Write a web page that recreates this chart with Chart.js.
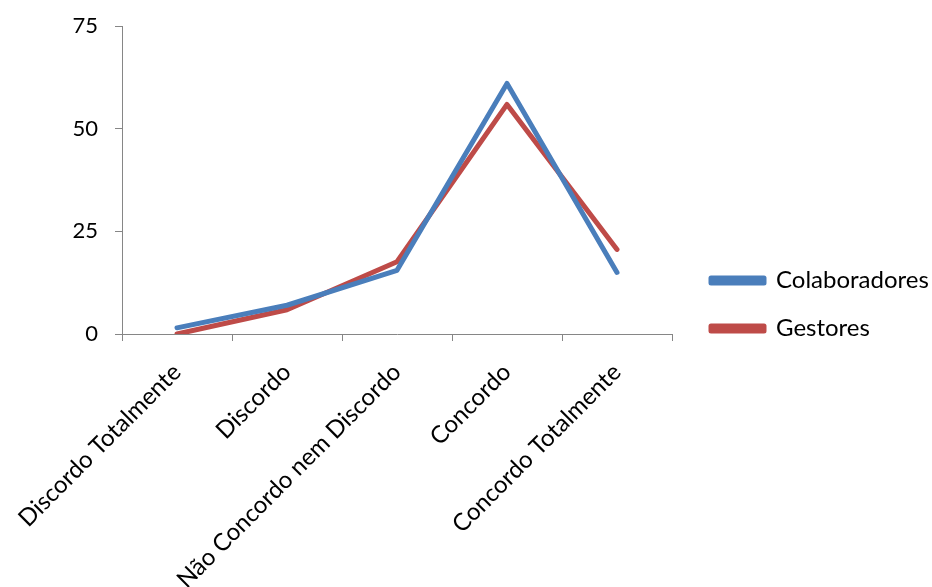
<!DOCTYPE html>
<html>
<head>
<meta charset="utf-8">
<script src="https://cdn.jsdelivr.net/npm/chart.js@4.4.0/dist/chart.umd.min.js"></script>
<style>
  html, body { margin: 0; padding: 0; background: #fff; }
  #wrap { width: 932px; height: 587px; }
</style>
</head>
<body>
<div id="wrap"><canvas id="chart" width="932" height="587"></canvas></div>
<script>
const categories = ['Discordo Totalmente', 'Discordo', 'Não Concordo nem Discordo', 'Concordo', 'Concordo Totalmente'];
const colaboradores = [1.5, 7, 15.5, 61, 15];
const gestores = [0, 5.9, 17.6, 55.9, 20.6];
const yMin = 0;
const yMax = 75;
const yStep = 25;

const axisColor = '#868686';
const fontFamily = 'Lato, "Open Sans", sans-serif';

// give the legend a fixed column width and nudge its items,
// so the plot ends where the original's does
const legendBox = {
  id: 'legendBox',
  beforeLayout(chart) {
    const lg = chart.legend;
    if (lg && !lg._fixedFit) {
      const fit = lg.fit;
      lg.fit = function () {
        fit.call(this);
        this.width = 260;
      };
      lg._fixedFit = true;
    }
  },
  afterLayout(chart) {
    const lg = chart.legend;
    lg.left += 15; lg.right += 15;
    lg.top -= 2; lg.bottom -= 2;
  }
};

new Chart(document.getElementById('chart'), {
  type: 'line',
  data: {
    labels: categories,
    datasets: [
      {
        label: 'Colaboradores',
        data: colaboradores,
        borderColor: '#4A7EBB',
        backgroundColor: '#4A7EBB',
        borderWidth: 5,
        pointRadius: 0,
        tension: 0,
        borderCapStyle: 'round',
        borderJoinStyle: 'round',
      },
      {
        label: 'Gestores',
        data: gestores,
        borderColor: '#BE4B48',
        backgroundColor: '#BE4B48',
        borderWidth: 5,
        pointRadius: 0,
        tension: 0,
        borderCapStyle: 'round',
        borderJoinStyle: 'round',
      },
    ],
  },
  options: {
    responsive: false,
    animation: false,
    layout: { padding: { top: 26, right: 0, left: 0, bottom: 0 } },
    plugins: {
      legend: {
        position: 'right',
        align: 'center',
        labels: {
          color: '#000',
          font: { family: fontFamily, size: 24 },
          boxWidth: 53,
          boxHeight: 5,
          padding: 24,
        },
      },
      tooltip: { enabled: false },
    },
    scales: {
      x: {
        offset: true,
        afterFit: (scale) => {
          // long rotated labels run off the canvas, as in the original
          scale.height = 253;
          scale.paddingLeft = 0;
          scale.paddingRight = 0;
        },
        border: { color: axisColor, width: 1 },
        grid: { offset: true, drawOnChartArea: false, tickLength: 7, color: axisColor },
        ticks: {
          color: '#000',
          font: { family: fontFamily, size: 24 },
          minRotation: 45,
          maxRotation: 45,
          autoSkip: false,
          padding: 17,
        },
      },
      y: {
        min: yMin,
        max: yMax,
        afterFit: (scale) => {
          scale.width = 122;
          scale.paddingTop = 0;
          scale.paddingBottom = 0;
        },
        border: { color: axisColor, width: 1 },
        grid: { drawOnChartArea: false, tickLength: 7, color: axisColor },
        ticks: {
          stepSize: yStep,
          color: '#000',
          font: { family: fontFamily, size: 22 },
          padding: 17,
        },
      },
    },
  },
  plugins: [legendBox],
});
</script>
</body>
</html>
